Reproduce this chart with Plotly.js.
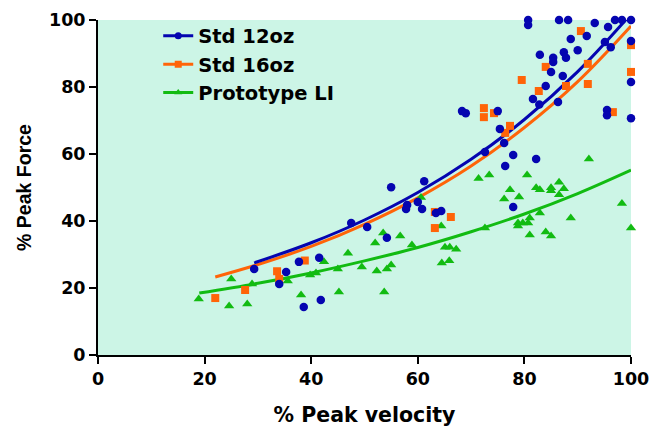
<!DOCTYPE html>
<html>
<head>
<meta charset="utf-8">
<script src="https://cdn.plot.ly/plotly-3.0.1.min.js"></script>
<style>
html,body{margin:0;padding:0;background:#fff;}
#chart{width:654px;height:432px;}
</style>
</head>
<body>
<div id="chart"></div>
<script>
// Std 12oz data
var std12X = [29.3,35.3,34.0,37.7,41.5,38.6,41.8,47.5,50.5,54.2,55.0,61.2,58.0,57.8,60.0,60.8,63.4,64.4,
  68.3,69.0,75.0,75.4,76.2,72.6,77.9,76.4,82.2,77.9,95.5,95.5,100,81.6,82.8,86.3,
  80.7,80.7,86.5,88.2,93.2,95.7,97.0,98.3,100,88.7,91.7,90.0,87.4,87.8,82.9,85.4,85.4,85.0,87.2,84.0,
  95.1,96.2,100,100];
var std12Y = [25.7,24.8,21.2,27.8,29.0,14.3,16.4,39.4,38.2,35.0,50.1,51.9,44.8,43.6,45.7,43.6,42.4,43.0,
  72.8,72.2,72.8,67.5,63.3,60.6,59.7,56.4,58.5,44.2,73.1,71.6,70.7,76.4,74.8,75.5,
  100,98.5,100,100,99.1,97.9,100,100,100,94.3,95.2,91.0,90.4,88.7,89.6,88.7,87.5,84.5,83.3,80.3,
  93.4,91.9,93.7,81.5];

// Std 16oz data
var std16X = [22.0,27.6,33.6,34.0,38.8,63.2,66.2,63.2,72.4,74.3,72.4,77.3,76.4,96.6,90.6,84.0,91.9,79.5,82.7,87.8,91.9,100,100];
var std16Y = [17.0,19.4,25.0,22.7,28.2,42.7,41.2,37.9,73.7,72.2,71.0,68.4,66.3,72.5,96.7,86.0,86.9,82.1,78.8,80.3,80.9,92.5,84.5];

// Prototype LI data
var protoX = [18.9,24.6,28.0,25.0,28.9,35.6,38.1,39.8,40.9,42.4,45.0,45.2,46.9,49.5,52.0,52.3,54.2,55.0,53.7,53.5,56.7,58.9,
  60.6,64.4,65.1,66.0,67.2,64.5,65.9,71.4,73.4,80.5,77.3,76.2,79.0,82.2,82.9,85.0,85.0,86.5,87.4,86.5,92.1,98.3,100,
  88.7,82.9,81.0,78.8,79.7,80.7,78.8,81.0,84.0,85.0,72.6];
var protoY = [16.7,14.6,15.2,22.7,21.2,22.1,17.9,23.9,24.5,27.8,25.7,18.8,30.4,26.3,33.4,25.1,25.7,26.9,18.8,36.4,35.5,32.8,
  47.0,38.5,32.2,32.2,31.6,27.5,28.1,52.7,53.7,53.7,49.3,46.6,47.2,49.9,49.3,49.9,49.0,51.6,49.6,47.8,58.5,45.2,37.9,
  40.9,42.4,40.9,39.4,39.4,39.4,38.5,35.8,36.7,35.5,37.9];

// Fitted curves
var fit12X = [29.3,40,50,60,70,80,90,100];
var fit12Y = [27.5,33.5,40.3,48.5,58.4,70.3,84.6,101.8];
var fit16X = [22,30,40,50,60,70,80,90,100];
var fit16Y = [23.3,27.0,32.4,39.0,46.9,56.4,67.9,81.6,98.2];
var fitProtoX = [19,30,40,50,60,70,80,90,100];
var fitProtoY = [18.5,21.4,24.5,28.1,32.1,36.8,42.1,48.2,55.2];

var names = ['Std 12oz','Std 16oz','Prototype LI'];
var xTicks = [0,20,40,60,80,100];
var yTicks = [0,20,40,60,80,100];

var cBlue = '#0505b0', cOrange = '#ff6408', cGreen = '#12bb12';
var WIDE = '"DejaVu Sans", sans-serif';
var ARIAL = 'Arial, "Liberation Sans", sans-serif';

var traces = [
  {x: fitProtoX, y: fitProtoY, mode:'lines', line:{color:cGreen, width:3, shape:'spline'}, showlegend:false, hoverinfo:'skip'},
  {x: fit16X, y: fit16Y, mode:'lines', line:{color:cOrange, width:3, shape:'spline'}, showlegend:false, hoverinfo:'skip'},
  {x: fit12X, y: fit12Y, mode:'lines', line:{color:cBlue, width:3, shape:'spline'}, showlegend:false, hoverinfo:'skip'},
  {x: protoX, y: protoY, mode:'markers', marker:{symbol:'triangle-up', size:9, color:cGreen}, showlegend:false, cliponaxis:false},
  {x: std16X, y: std16Y, mode:'markers', marker:{symbol:'square', size:8, color:cOrange}, showlegend:false, cliponaxis:false},
  {x: std12X, y: std12Y, mode:'markers', marker:{symbol:'circle', size:8.5, color:cBlue}, showlegend:false, cliponaxis:false},
  // legend entries
  {x:[null], y:[null], name:names[0], mode:'lines+markers', line:{color:cBlue,width:3}, marker:{symbol:'circle',size:7,color:cBlue}, legendgroup:'a'},
  {x:[null], y:[null], name:names[1], mode:'lines+markers', line:{color:cOrange,width:3}, marker:{symbol:'square',size:7,color:cOrange}, legendgroup:'b'},
  {x:[null], y:[null], name:names[2], mode:'lines+markers', line:{color:cGreen,width:3}, marker:{symbol:'triangle-up',size:7,color:cGreen}, legendgroup:'c'}
];

var axisCommon = {
  showgrid:false, zeroline:false, showline:true, linecolor:'#000', linewidth:2,
  ticks:'outside', ticklen:7, tickwidth:2, tickcolor:'#000',
  tickfont:{family:WIDE, size:17.5, color:'#000', weight:'bold'}
};

var layout = {
  width:654, height:432,
  margin:{l:98, r:23, t:20, b:77},
  paper_bgcolor:'#ffffff',
  plot_bgcolor:'#ccf5e6',
  showlegend:true,
  legend:{x:0.113, y:1.01, xanchor:'left', yanchor:'top', bgcolor:'rgba(0,0,0,0)',
    font:{family:WIDE, size:19.5, color:'#000', weight:'bold'}, traceorder:'grouped', tracegroupgap:0},
  xaxis: Object.assign({}, axisCommon, {range:[0,100], tickvals:xTicks, ticktext:xTicks.map(String),
    title:{text:'% Peak velocity', font:{family:WIDE, size:20.5, color:'#000', weight:'bold'}, standoff:20}}),
  yaxis: Object.assign({}, axisCommon, {range:[0,100], tickvals:yTicks, ticktext:yTicks.map(String),
    title:{text:'% Peak Force', font:{family:ARIAL, size:19.5, color:'#000', weight:'bold'}, standoff:12}})
};

Plotly.newPlot('chart', traces, layout, {staticPlot:true, displayModeBar:false});
</script>
</body>
</html>
